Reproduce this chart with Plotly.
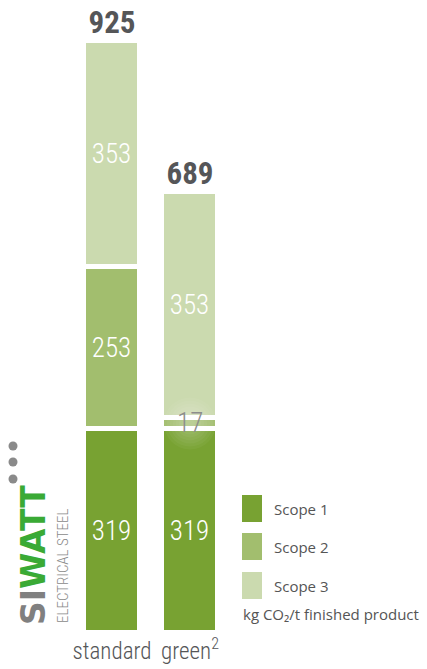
import plotly.graph_objects as go

categories = ["standard", "green"]
tick_labels = ["standard", "green<sup>2</sup>"]
scope1 = [319, 319]
scope2 = [253, 17]
scope3 = [353, 353]
totals = [925, 689]
series_names = ["Scope 1", "Scope 2", "Scope 3"]
unit_label = "kg CO\u2082/t finished product"

colors = ["#78A232", "#A2BE6E", "#CBDAAF"]
W, H = 427, 669
PLOT_BOTTOM = 633  # pixel of y=0
COND = "Roboto Condensed, DejaVu Sans Condensed, Roboto"
MIN_INSIDE = 50  # segments smaller than this get their label as an overlay

fig = go.Figure()
x = [0, 1]
for vals, name, col in [
    (scope1, series_names[0], colors[0]),
    (scope2, series_names[1], colors[1]),
    (scope3, series_names[2], colors[2]),
]:
    fig.add_trace(go.Bar(
        x=x, y=vals, name=name, width=0.73,
        marker=dict(color=col, line=dict(color="white", width=5)),
        text=[str(v) if v >= MIN_INSIDE else "" for v in vals],
        textposition="inside", textangle=0,
        insidetextanchor="middle", constraintext="none",
        textfont=dict(family=COND, size=27, color="white", weight=300),
        showlegend=False, hoverinfo="skip",
    ))

fig.add_trace(go.Scatter(
    x=x, y=totals, mode="text", text=[str(t) for t in totals],
    textposition="top center",
    textfont=dict(family=COND, size=31, color="#555658", weight="bold"),
    showlegend=False, hoverinfo="skip", cliponaxis=False,
))

def py(y):
    return (PLOT_BOTTOM - y) / PLOT_BOTTOM

def px(xp):
    return xp / W

shapes = []
annotations = []

# small segment labels as overlays with soft glow
for i, v in enumerate(scope2):
    if v < MIN_INSIDE:
        yc = scope1[i] + v / 2
        annotations.append(dict(x=x[i], y=yc, xref="x", yref="y", showarrow=False,
                                text=str(v), yanchor="middle",
                                font=dict(family=COND, size=27, color="#8c8c8c", weight=300)))
        cx = 112 + 78 * x[i]
        cy = PLOT_BOTTOM - yc * 0.64
        for r in [26, 23, 20, 17, 14, 11, 8, 5]:
            shapes.append(dict(type="circle", xref="paper", yref="paper", layer="above",
                               x0=px(cx - r), x1=px(cx + r), y0=py(cy + r), y1=py(cy - r),
                               fillcolor="white", opacity=0.045, line=dict(width=0)))

# legend
leg_tops = [495, 533, 572]
for i, (name, col) in enumerate(zip(series_names, colors)):
    t = leg_tops[i]
    shapes.append(dict(type="rect", xref="paper", yref="paper",
                       x0=px(242), x1=px(262), y0=py(t + 27), y1=py(t),
                       fillcolor=col, line=dict(width=0)))
    annotations.append(dict(xref="paper", yref="paper", x=px(272), y=py(t + 13.5),
                            xanchor="left", yanchor="middle", showarrow=False,
                            text=name, font=dict(family="Open Sans", size=15, color="#555555")))
annotations.append(dict(xref="paper", yref="paper", x=px(241), y=py(614),
                        xanchor="left", yanchor="middle", showarrow=False,
                        text=unit_label, font=dict(family="Open Sans", size=15, color="#555555")))

# logo
for cy in [446, 462, 479]:
    shapes.append(dict(type="circle", xref="paper", yref="paper",
                       x0=px(8.5), x1=px(17.5), y0=py(cy + 4.5), y1=py(cy - 4.5),
                       fillcolor="#8a8a8a", line=dict(width=0)))
annotations.append(dict(xref="paper", yref="paper", x=px(33), y=py(555),
                        xanchor="center", yanchor="middle", showarrow=False, textangle=-90,
                        text="<span style='color:#808080'>SI</span><span style='color:#3AAA35'>WATT</span>",
                        font=dict(family="DejaVu Sans", size=33, weight="bold")))
annotations.append(dict(xref="paper", yref="paper", x=px(63), y=py(566),
                        xanchor="center", yanchor="middle", showarrow=False, textangle=-90,
                        text="ELECTRICAL STEEL",
                        font=dict(family=COND, size=15, color="#8a8a8a", weight=300)))

x_a = -112 / 78
fig.update_layout(
    barmode="stack",
    width=W, height=H,
    margin=dict(l=0, r=0, t=0, b=H - PLOT_BOTTOM, pad=0),
    paper_bgcolor="white", plot_bgcolor="white",
    xaxis=dict(range=[x_a, x_a + W / 78], tickvals=x, ticktext=tick_labels,
               showgrid=False, zeroline=False, showline=False, ticks="",
               tickfont=dict(family=COND, size=23, color="#555658", weight=300),
               ticklabelstandoff=2),
    yaxis=dict(range=[0, PLOT_BOTTOM / 0.64], visible=False, showgrid=False),
    shapes=shapes, annotations=annotations,
    bargap=0,
)
fig.write_html("out.html", config={"displayModeBar": False},
               post_script="document.body.style.margin='0';document.body.style.padding='0';")
